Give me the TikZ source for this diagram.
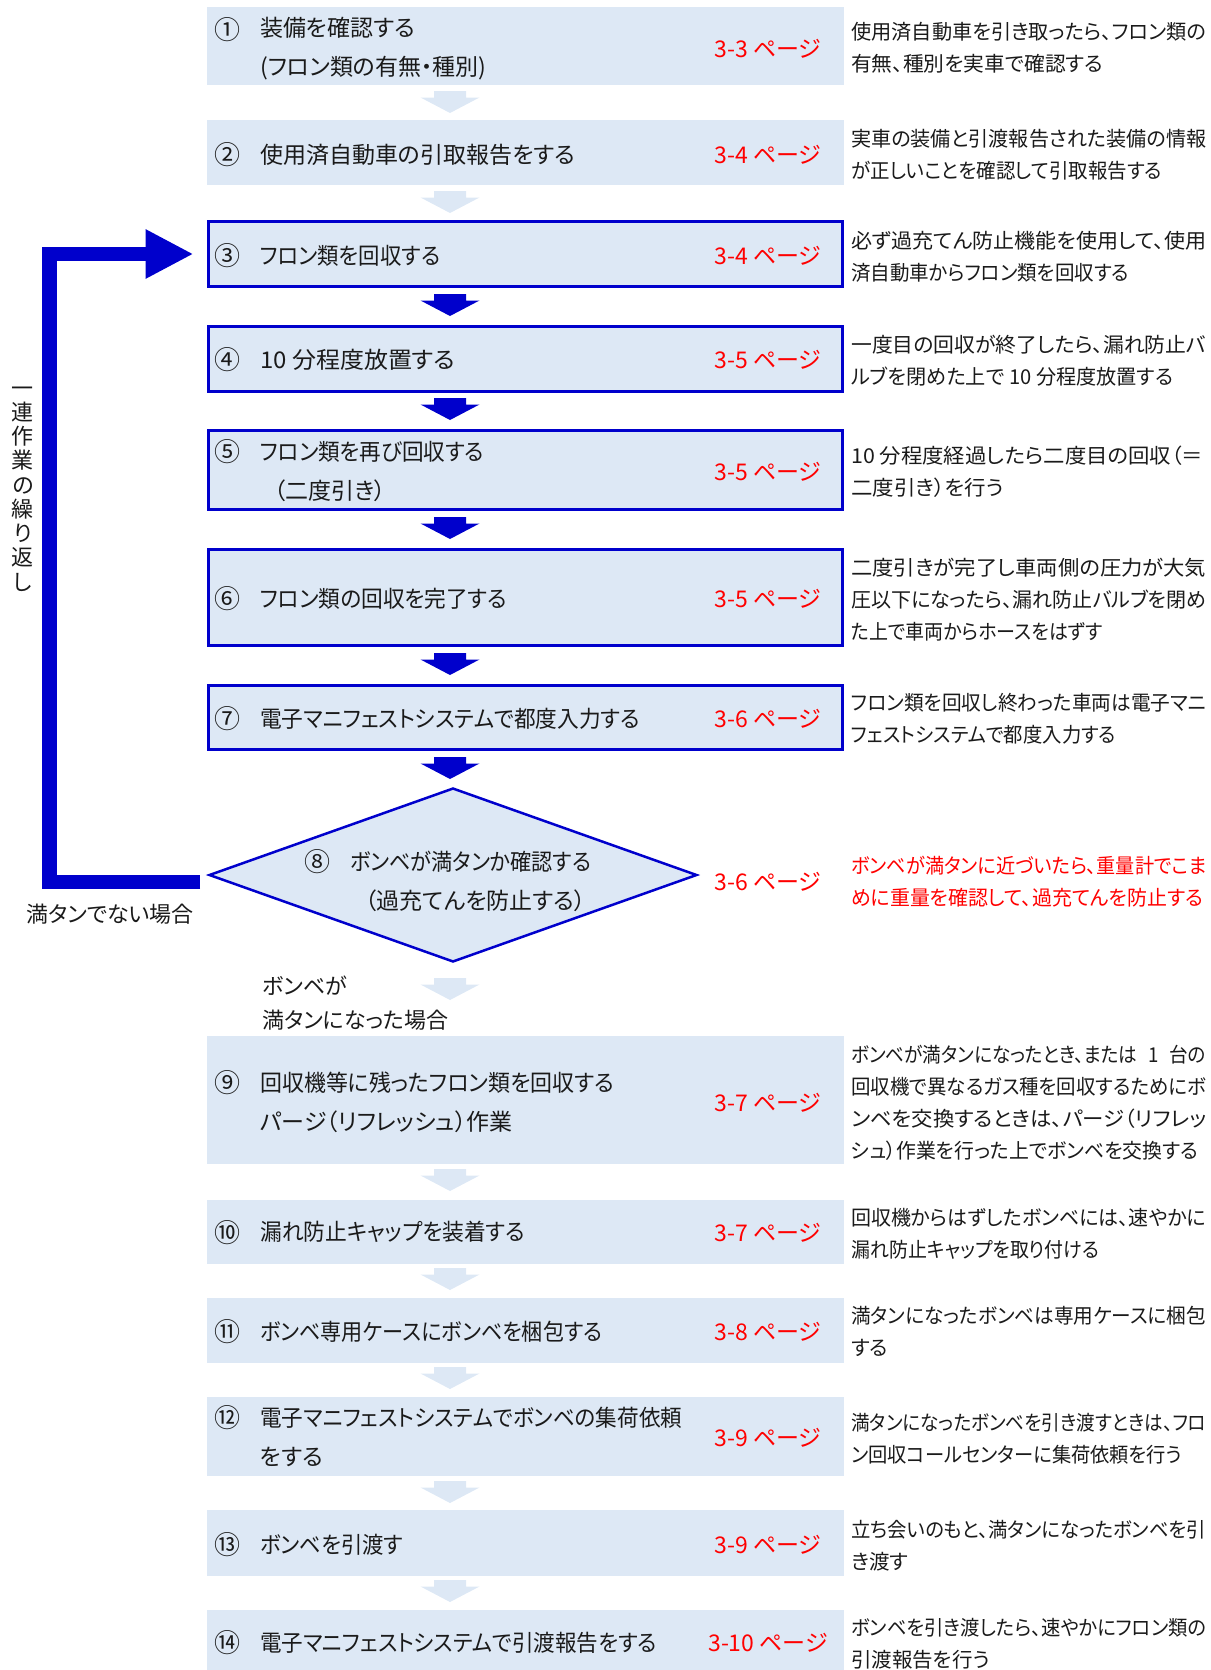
\documentclass[tikz,border=0pt]{standalone}
\usepackage{fontspec}
\setmainfont{Noto Sans CJK JP}[RawFeature=+palt]
\usetikzlibrary{arrows.meta,calc,shapes.geometric}
\definecolor{boxfill}{RGB}{221,232,245}
\definecolor{dblue}{RGB}{0,0,204}
\definecolor{pgred}{RGB}{255,0,0}
\definecolor{txt}{RGB}{26,26,26}
\tikzset{
 plainbox/.style={fill=boxfill, draw=none, minimum width=637pt, inner sep=0pt, outer sep=0pt},
 bluebox/.style={fill=boxfill, draw=dblue, line width=3pt, minimum width=634pt, inner sep=0pt, outer sep=0pt},
 numtxt/.style={font=\fontsize{26}{39}\selectfont, text=txt, inner sep=0pt},
 boxtxt/.style={font=\fontsize{23}{39}\selectfont, text=txt, inner sep=0pt, anchor=west, align=left},
 pgref/.style={font=\fontsize{23}{28}\selectfont, text=pgred, inner sep=0pt},
 sidenote/.style={font=\fontsize{20.5}{32}\selectfont, text=txt, inner sep=0pt, anchor=west, align=left},
 rednote/.style={sidenote, text=pgred},
 lbltxt/.style={font=\fontsize{22}{34}\selectfont, text=txt, inner sep=0pt, align=left},
}
\newcommand\blkarrow[3]{\fill[#1,shift={(#2,#3)}] (-16,0) -- (16,0) -- (16,6.5) -- (29.5,6.5) -- (0,22) -- (-29.5,6.5) -- (-16,6.5) -- cycle;}
\newcommand\wl[2]{\resizebox{#1pt}{\height}{#2}}
\begin{document}
\begin{tikzpicture}[x=1pt,y=-1pt]
\useasboundingbox (0,0) rectangle (1210,1670);
% boxes
\node[plainbox, minimum height=78pt] (b1) at (525.5,46) {};
\node[plainbox, minimum height=65pt] (b2) at (525.5,152.5) {};
\node[bluebox, minimum height=65pt] (b3) at (525.5,254) {};
\node[bluebox, minimum height=65pt] (b4) at (525.5,359) {};
\node[bluebox, minimum height=79pt] (b5) at (525.5,470) {};
\node[bluebox, minimum height=96pt] (b6) at (525.5,597.5) {};
\node[bluebox, minimum height=64pt] (b7) at (525.5,717.5) {};
\node[diamond, fill=boxfill, draw=dblue, line width=2.5pt, minimum width=488pt, minimum height=174pt, inner sep=0pt] (d) at (453,875) {};
\node[plainbox, minimum height=128pt] (b9) at (525.5,1100) {};
\node[plainbox, minimum height=64pt] (b10) at (525.5,1232) {};
\node[plainbox, minimum height=65pt] (b11) at (525.5,1330.5) {};
\node[plainbox, minimum height=79pt] (b12) at (525.5,1436.5) {};
\node[plainbox, minimum height=66pt] (b13) at (525.5,1543) {};
\node[plainbox, minimum height=60pt] (b14) at (525.5,1640) {};
% block arrows
\blkarrow{boxfill}{450}{91}
\blkarrow{boxfill}{450}{191}
\blkarrow{dblue}{450}{294}
\blkarrow{dblue}{450}{398}
\blkarrow{dblue}{450}{517}
\blkarrow{dblue}{450}{653}
\blkarrow{dblue}{450}{757}
\blkarrow{boxfill}{450}{978}
\blkarrow{boxfill}{450}{1169}
\blkarrow{boxfill}{450}{1268}
\blkarrow{boxfill}{450}{1367}
\blkarrow{boxfill}{450}{1481}
\blkarrow{boxfill}{450}{1580}
% loop arrow
\coordinate (lpS) at (200,882);
\coordinate (lpA) at (49.5,882);
\coordinate (lpB) at (49.5,254);
\draw[dblue, line width=14.5pt, miter limit=10, -{Triangle[length=48pt,width=46pt]}]
  (lpS) -- (lpA) -- (lpB) -- ([xshift=-15pt]b3.west);
% numbers
\node[numtxt] (n1) at (227,30) {①};
\node[numtxt] (n2) at (227,154.4) {②};
\node[numtxt] (n3) at (227,255.6) {③};
\node[numtxt] (n4) at (227,360) {④};
\node[numtxt] (n5) at (227,451.6) {⑤};
\node[numtxt] (n6) at (227,598.6) {⑥};
\node[numtxt] (n7) at (227,719) {⑦};
\node[numtxt] (n8) at (317,861.7) {⑧};
\node[numtxt] (n9) at (227,1083) {⑨};
\node[numtxt] (n10) at (227,1232.3) {⑩};
\node[numtxt] (n11) at (227,1331.4) {⑪};
\node[numtxt] (n12) at (227,1417.7) {⑫};
\node[numtxt] (n13) at (227,1544.4) {⑬};
\node[numtxt] (n14) at (227,1642.4) {⑭};
% box texts
\node[boxtxt] (t1) at (260,49) {装備を確認する\\(フロン類の有無・種別)};
\node[boxtxt] (t2) at (260,154.4) {使用済自動車の引取報告をする};
\node[boxtxt] (t3) at (260,255.6) {\wl{180}{フロン類を回収する}};
\node[boxtxt] (t4) at (260,360) {\wl{195}{10 分程度放置する}};
\node[boxtxt] (t5) at (260,471.3) {\wl{224}{フロン類を再び回収する}\\\hspace*{14pt}（二度引き）};
\node[boxtxt] (t6) at (260,598.6) {\wl{247}{フロン類の回収を完了する}};
\node[boxtxt] (t7) at (260,719) {\wl{380}{電子マニフェストシステムで都度入力する}};
\node[boxtxt] (t8) at (350,880.9) {\wl{241}{ボンベが満タンか確認する}\\\hspace*{15pt}（過充てんを防止する）};
\node[boxtxt] (t9) at (260,1102.3) {\wl{354}{回収機等に残ったフロン類を回収する}\\パージ（リフレッシュ）作業};
\node[boxtxt] (t10) at (260,1232.3) {\wl{265}{漏れ防止キャップを装着する}};
\node[boxtxt] (t11) at (260,1331.4) {\wl{342}{ボンベ専用ケースにボンベを梱包する}};
\node[boxtxt] (t12) at (260,1437.4) {\wl{422}{電子マニフェストシステムでボンベの集荷依頼}\\をする};
\node[boxtxt] (t13) at (260,1544.4) {\wl{143}{ボンベを引渡す}};
\node[boxtxt] (t14) at (260,1642.4) {\wl{397}{電子マニフェストシステムで引渡報告をする}};
% page refs
\node[pgref] (p1) at (768,49) {3-3 ページ};
\node[pgref] (p2) at (768,154.4) {3-4 ページ};
\node[pgref] (p3) at (768,255.6) {3-4 ページ};
\node[pgref] (p4) at (768,360) {3-5 ページ};
\node[pgref] (p5) at (768,471.8) {3-5 ページ};
\node[pgref] (p6) at (768,598.6) {3-5 ページ};
\node[pgref] (p7) at (768,719) {3-6 ページ};
\node[pgref] (p8) at (768,882) {3-6 ページ};
\node[pgref] (p9) at (768,1102.4) {3-7 ページ};
\node[pgref] (p10) at (768,1232.3) {3-7 ページ};
\node[pgref] (p11) at (768,1331.4) {3-8 ページ};
\node[pgref] (p12) at (768,1437.9) {3-9 ページ};
\node[pgref] (p13) at (768,1544.4) {3-9 ページ};
\node[pgref] (p14) at (768,1642.4) {3-10 ページ};
% side notes
\node[sidenote] (s1) at (851,48) {\wl{355}{使用済自動車を引き取ったら、フロン類の}\\\wl{252}{有無、種別を実車で確認する}};
\node[sidenote] (s2) at (851,154.4) {\wl{355}{実車の装備と引渡報告された装備の情報}\\\wl{311}{が正しいことを確認して引取報告する}};
\node[sidenote] (s3) at (851,256.7) {\wl{355}{必ず過充てん防止機能を使用して、使用}\\\wl{278}{済自動車からフロン類を回収する}};
\node[sidenote] (s4) at (851,360.5) {\wl{355}{一度目の回収が終了したら、漏れ防止バ}\\\wl{322}{ルブを閉めた上で 10 分程度放置する}};
\node[sidenote] (s5) at (851,471.8) {\wl{352}{10 分程度経過したら二度目の回収（＝}\\\wl{153}{二度引き）を行う}};
\node[sidenote] (s6) at (851,599.7) {\wl{355}{二度引きが完了し車両側の圧力が大気}\\\wl{355}{圧以下になったら、漏れ防止バルブを閉め}\\\wl{252}{た上で車両からホースをはずす}};
\node[sidenote] (s7) at (851,719) {\wl{355}{フロン類を回収し終わった車両は電子マニ}\\\wl{265}{フェストシステムで都度入力する}};
\node[rednote] (s8) at (851,882) {\wl{355}{ボンベが満タンに近づいたら、重量計でこま}\\\wl{352}{めに重量を確認して、過充てんを防止する}};
\node[sidenote] (s9) at (851,1103) {\wl{355}{ボンベが満タンになったとき、または\hspace{12pt}1\hspace{12pt}台の}\\\wl{355}{回収機で異なるガス種を回収するためにボ}\\\wl{355}{ンベを交換するときは、パージ（リフレッ}\\\wl{347}{シュ）作業を行った上でボンベを交換する}};
\node[sidenote] (s10) at (851,1233.4) {\wl{355}{回収機からはずしたボンベには、速やかに}\\\wl{248}{漏れ防止キャップを取り付ける}};
\node[sidenote] (s11) at (851,1331.4) {\wl{355}{満タンになったボンベは専用ケースに梱包}\\する};
\node[sidenote] (s12) at (851,1439) {\wl{355}{満タンになったボンベを引き渡すときは、フロ}\\\wl{331}{ン回収コールセンターに集荷依頼を行う}};
\node[sidenote] (s13) at (851,1545.5) {\wl{355}{立ち会いのもと、満タンになったボンベを引}\\き渡す};
\node[sidenote] (s14) at (851,1644) {\wl{355}{ボンベを引き渡したら、速やかにフロン類の}\\引渡報告を行う};
% labels
\node[lbltxt, font=\fontsize{22}{24.25}\selectfont, align=center] (vt) at (23,489) {一\\連\\作\\業\\の\\繰\\り\\返\\し};
\node[lbltxt, anchor=west] (nf) at (26,914) {満タンでない場合};
\node[lbltxt, anchor=west] (ff) at (262,1003) {ボンベが\\満タンになった場合};
\end{tikzpicture}
\end{document}
